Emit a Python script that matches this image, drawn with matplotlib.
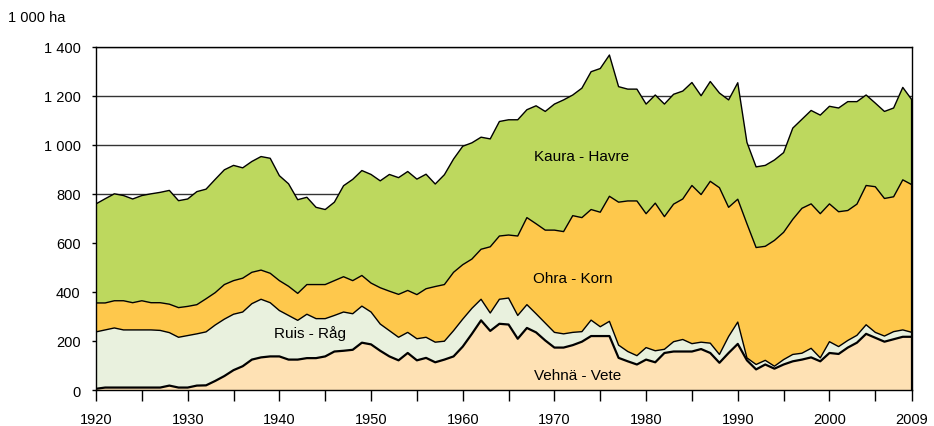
import numpy as np
from matplotlib import pyplot as plt

# Cereal area in Finland, 1 000 ha
years = np.arange(1920, 2010)

wheat = [5, 10, 10, 10, 10, 10, 10, 10, 18, 10,
         10, 18, 19, 37, 57, 81, 97, 124, 133, 137,
         137, 124, 124, 130, 130, 137, 157, 160, 164, 193,
         186, 160, 137, 121, 151, 121, 131, 113, 124, 137,
         177, 229, 284, 241, 270, 267, 209, 253, 235, 202,
         173, 173, 183, 197, 220, 220, 220, 131, 117, 104,
         124, 113, 151, 157, 157, 157, 167, 151, 111, 151,
         188, 121, 84, 104, 87, 104, 117, 124, 133, 117,
         151, 147, 173, 193, 229, 213, 197, 207, 217, 217]

rye = [232, 235, 243, 235, 235, 235, 235, 233, 216, 205,
       212, 211, 218, 228, 232, 228, 221, 228, 237, 219,
       187, 180, 160, 179, 161, 154, 147, 158, 147, 149,
       132, 109, 105, 94, 84, 88, 84, 82, 75, 105,
       112, 104, 86, 73, 100, 108, 95, 95, 76, 71,
       62, 56, 52, 41, 65, 38, 60, 52, 40, 36,
       49, 47, 15, 40, 49, 32, 28, 40, 34, 67,
       89, 10, 20, 17, 10, 20, 28, 26, 37, 14,
       46, 30, 29, 30, 37, 22, 23, 31, 28, 18]

barley = [118, 110, 111, 119, 111, 119, 111, 113, 116, 121,
          119, 119, 135, 132, 141, 137, 138, 128, 119, 120,
          122, 119, 110, 121, 139, 139, 142, 144, 135, 125,
          118, 148, 161, 175, 171, 180, 198, 227, 231, 238,
          222, 201, 204, 270, 258, 257, 324, 355, 367, 379,
          417, 417, 476, 465, 451, 467, 510, 583, 614, 631,
          546, 602, 541, 561, 573, 645, 602, 660, 680, 527,
          501, 547, 477, 465, 513, 519, 551, 591, 589, 588,
          562, 550, 530, 535, 568, 594, 561, 550, 612, 602]

oats = [404, 425, 436, 429, 423, 429, 444, 450, 464, 436,
        438, 461, 447, 462, 468, 470, 450, 452, 463, 469,
        428, 418, 382, 356, 315, 306, 320, 371, 413, 428,
        443, 436, 476, 476, 485, 471, 467, 418, 448, 462,
        483, 474, 457, 440, 467, 470, 474, 440, 481, 484,
        514, 537, 492, 528, 562, 586, 576, 471, 456, 456,
        447, 441, 459, 448, 440, 420, 403, 407, 386, 438,
        475, 332, 329, 330, 328, 325, 372, 363, 381, 402,
        398, 423, 444, 418, 369, 341, 355, 362, 377, 346]

names = ['Vehnä - Vete', 'Ruis - Råg', 'Ohra - Korn', 'Kaura - Havre']
colors = ['#FEE1B4', '#E9F1DE', '#FEC84C', '#BDD85E']
yticks = [0, 200, 400, 600, 800, 1000, 1200, 1400]
ylabels = ['0', '200', '400', '600', '800', '1 000', '1 200', '1 400']

plt.rcParams['font.family'] = ['Liberation Sans', 'DejaVu Sans']

fig = plt.figure(figsize=(9.34, 4.27), dpi=100)
ax = fig.add_axes([0.1028, 0.0843, 0.8736, 0.804])

# Stacked areas
series = [wheat, rye, barley, oats]
bottom = np.zeros(len(years))
for vals, col in zip(series, colors):
    top = bottom + np.array(vals)
    ax.fill_between(years, bottom, top, facecolor=col, edgecolor='none', zorder=2)
    bottom = top

# Boundary lines
cum = np.cumsum(np.array(series), axis=0)
ax.plot(years, cum[0], color='black', lw=1.6, zorder=3)
for row in cum[1:]:
    ax.plot(years, row, color='black', lw=1.0, zorder=3)
ax.plot([years[-1], years[-1]], [0, cum[-1][-1]], color='black', lw=1.6, zorder=3)

# Area labels
ax.text(1973, 955, names[3], ha='center', va='center', fontsize=11, zorder=4)
ax.text(1972, 456, names[2], ha='center', va='center', fontsize=11, zorder=4)
ax.text(1943.3, 233, names[1], ha='center', va='center', fontsize=11, zorder=4)
ax.text(1972.5, 62, names[0], ha='center', va='center', fontsize=11, zorder=4)

# Axes
ax.set_xlim(1920, 2009)
ax.set_ylim(0, 1400)
ax.set_yticks(yticks)
ax.set_yticklabels(ylabels, fontsize=10.5)
ax.yaxis.grid(True, color='#333333', lw=1.0, zorder=1)
ax.set_axisbelow(True)

ax.set_xticks(list(range(1920, 2001, 10)) + [2009])
ax.set_xticklabels([str(y) for y in range(1920, 2001, 10)] + ['2009'], fontsize=10.5)
ax.set_xticks(list(range(1925, 2006, 10)), minor=True)
ax.tick_params(axis='x', which='both', direction='out', length=8, width=1, pad=8)
ax.tick_params(axis='y', direction='out', length=3, width=1, pad=8)

for s in ax.spines.values():
    s.set_color('black')
    s.set_linewidth(1.0)

fig.text(0.0086, 0.958, '1 000 ha', fontsize=10.5, ha='left', va='center')

plt.savefig('out.png', dpi=100)
